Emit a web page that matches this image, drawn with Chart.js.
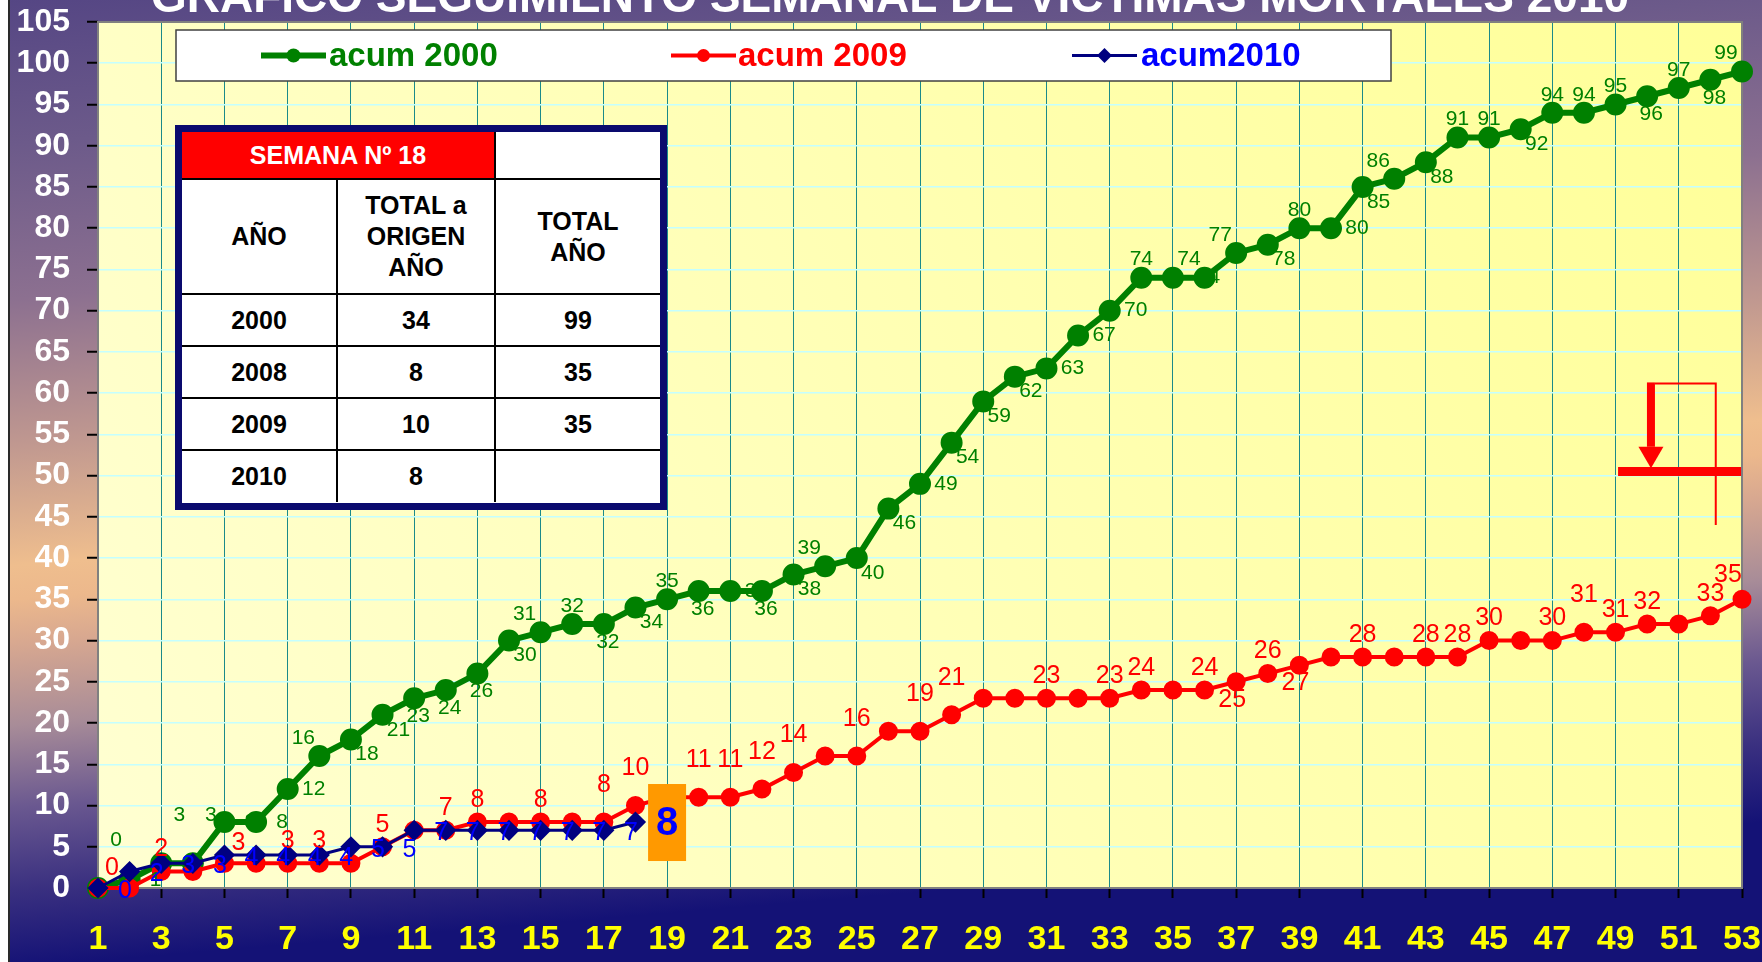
<!DOCTYPE html>
<html lang="es">
<head>
<meta charset="utf-8">
<title>Seguimiento semanal de victimas mortales 2010</title>
<script src="https://cdn.jsdelivr.net/npm/chart.js@4.4.1/dist/chart.umd.min.js"></script>
<style>
  html, body { margin: 0; padding: 0; background: #fff; }
  #marco { position: relative; width: 1762px; height: 962px; overflow: hidden; }
  #grafico { position: absolute; left: 0; top: 0; }
  #cuadro { position: absolute; left: 175px; top: 125px; width: 492px; height: 385px;
    box-sizing: border-box; border: 7px solid #0a0a6e; background: #fff; }
  #cuadro table { border-collapse: collapse; table-layout: fixed; width: 478px;
    font: bold 25px "Liberation Sans", Arial, sans-serif; color: #000; text-align: center; }
  #cuadro td { border: 2px solid #000; padding: 0; line-height: 31px; }
  #cuadro tr:first-child td { border-top: none; }
  #cuadro td:first-child { border-left: none; }
  #cuadro td:last-child { border-right: none; }
  #cuadro tr:last-child td { border-bottom: none; }
  #cuadro td.rojo { background: #ff0000; color: #fff; }
</style>
</head>
<body>
<div id="marco">
  <canvas id="grafico" width="1762" height="962"></canvas>
  <div id="cuadro"><table id="tabla"></table></div>
</div>
<script>
const titulo = "GRAFICO SEGUIMIENTO SEMANAL DE VICTIMAS MORTALES 2010";

const semanas = [1, 2, 3, 4, 5, 6, 7, 8, 9, 10, 11, 12, 13, 14, 15, 16, 17, 18, 19, 20,
  21, 22, 23, 24, 25, 26, 27, 28, 29, 30, 31, 32, 33, 34, 35, 36, 37, 38, 39, 40,
  41, 42, 43, 44, 45, 46, 47, 48, 49, 50, 51, 52, 53];

const acum2000 = [0, 1, 3, 3, 8, 8, 12, 16, 18, 21, 23, 24, 26, 30, 31, 32, 32, 34, 35, 36,
  36, 36, 38, 39, 40, 46, 49, 54, 59, 62, 63, 67, 70, 74, 74, 74, 77, 78, 80, 80,
  85, 86, 88, 91, 91, 92, 94, 94, 95, 96, 97, 98, 99];

const acum2009 = [0, 0, 2, 2, 3, 3, 3, 3, 3, 5, 7, 7, 8, 8, 8, 8, 8, 10, 11, 11,
  11, 12, 14, 16, 16, 19, 19, 21, 23, 23, 23, 23, 23, 24, 24, 24, 25, 26, 27, 28,
  28, 28, 28, 28, 30, 30, 30, 31, 31, 32, 32, 33, 35];

const acum2010 = [0, 2, 3, 3, 4, 4, 4, 4, 5, 5, 7, 7, 7, 7, 7, 7, 7, 8];

const semanaActual = 18;

const tablaAnios = ["2000", "2008", "2009", "2010"];
const tablaOrigen = [34, 8, 10, 8];
const tablaTotal = [99, 35, 35, null];

// donde va cada etiqueta de dato (una letra por semana, "." = sin etiqueta)
const etiq2000 = "HrHHrrrLBB" + "bbbBLabBab" + "rbBLBBrBBB" + "rrraRcLBar" + "BLBaaBaaab" + "abL";
const etiq2009 = "R.a.R.aa.a" + ".aa.a.AA.A" + "AAA.A.AA.." + "a.aa.abab." + "a.aaa.aAaa" + ".aL";
const etiq2010 = "rrrrrrrrrrrrrrrrr.";

const FUENTE = '"Liberation Sans", Arial, sans-serif';
Chart.defaults.font.family = FUENTE;

// tabla resumen
const filas = [];
filas.push(`<tr style="height:47px"><td class="rojo" colspan="2">SEMANA Nº ${semanaActual}</td><td></td></tr>`);
filas.push(`<tr style="height:115px"><td>AÑO</td><td>TOTAL a<br>ORIGEN<br>AÑO</td><td>TOTAL<br>AÑO</td></tr>`);
tablaAnios.forEach((a, i) => {
  filas.push(`<tr style="height:52px"><td>${a}</td><td>${tablaOrigen[i]}</td><td>${tablaTotal[i] ?? ""}</td></tr>`);
});
tabla.innerHTML = `<colgroup><col style="width:155px"><col style="width:158px"><col style="width:165px"></colgroup>` + filas.join("");

const puntos = serie => serie.map((v, i) => ({ x: semanas[i], y: v }));

const fondo = {
  id: "fondo",
  beforeDraw(chart) {
    const { ctx, width, height, chartArea: a } = chart;
    ctx.save();
    const g = ctx.createLinearGradient(0, 0, 80, 962);
    g.addColorStop(0, "#554684");
    g.addColorStop(0.15, "#6c5a8a");
    g.addColorStop(0.31, "#8c7090");
    g.addColorStop(0.46, "#c09890");
    g.addColorStop(0.585, "#efbe8e");
    g.addColorStop(0.62, "#ecb88c");
    g.addColorStop(0.665, "#d8a890");
    g.addColorStop(0.75, "#a88c98");
    g.addColorStop(0.835, "#6a5890");
    g.addColorStop(0.92, "#3a3080");
    g.addColorStop(1, "#141276");
    ctx.fillStyle = g;
    ctx.fillRect(0, 0, width, height);
    ctx.fillStyle = "#fff";
    ctx.fillRect(0, 0, 8, height);
    ctx.fillStyle = "#2a2a2a";
    ctx.fillRect(8, 0, 2, height);

    const p = ctx.createLinearGradient(a.left, a.bottom, a.right, a.top);
    p.addColorStop(0, "#ffffd2");
    p.addColorStop(1, "#ffff98");
    ctx.fillStyle = p;
    ctx.fillRect(a.left, a.top, a.right - a.left, a.bottom - a.top);

    ctx.font = "bold 46px " + FUENTE;
    ctx.fillStyle = "#fff";
    ctx.textAlign = "center";
    ctx.textBaseline = "alphabetic";
    ctx.fillText(titulo, 890, 12);
    ctx.restore();
  },
  beforeDatasetsDraw(chart) {
    const { ctx, chartArea: a } = chart;
    ctx.save();
    ctx.strokeStyle = "#808080";
    ctx.lineWidth = 2;
    ctx.strokeRect(a.left, a.top, a.right - a.left, a.bottom - a.top);
    ctx.restore();
  }
};

const desplaza = [
  { a: [0, -18], b: [4, 18], r: [26, 0], R: [16, -18], B: [16, 15], L: [-16, -18], H: [18, -48], c: [4, 0] },
  { a: [0, -22], A: [0, -37], b: [-4, 18], R: [14, -20], L: [-14, -24] },
  { r: [27, 3] }
];
const codigos = [etiq2000, etiq2009, etiq2010];
const fuentesEtiq = ["21px " + FUENTE, "25px " + FUENTE, "25px " + FUENTE];
const coloresEtiq = ["#008000", "#ff0000", "#0000ff"];

const etiquetas = {
  id: "etiquetas",
  afterDatasetsDraw(chart) {
    const ctx = chart.ctx;
    ctx.save();
    ctx.textAlign = "center";
    ctx.textBaseline = "middle";
    chart.data.datasets.forEach((ds, i) => {
      const meta = chart.getDatasetMeta(i);
      ctx.font = fuentesEtiq[i];
      ctx.fillStyle = coloresEtiq[i];
      meta.data.forEach((pt, j) => {
        const d = desplaza[i][codigos[i][j]];
        if (!d) return;
        ctx.fillText(String(ds.data[j].y), pt.x + d[0], pt.y + d[1]);
      });
    });

    // valor de la semana actual en recuadro naranja
    const { x, y } = chart.scales;
    const v = acum2010[semanaActual - 1];
    const cx = x.getPixelForValue(semanaActual + 1);
    const cy = y.getPixelForValue(v);
    ctx.fillStyle = "#ff9900";
    ctx.fillRect(cx - 19, cy - 38, 38, 77);
    ctx.font = "bold 40px " + FUENTE;
    ctx.fillStyle = "#0000ff";
    ctx.fillText(String(v), cx, cy + 2);
    ctx.restore();
  }
};

const flecha = {
  id: "flecha",
  afterDatasetsDraw(chart) {
    const { ctx, scales: { x, y } } = chart;
    const X = v => x.getPixelForValue(v);
    const Y = v => y.getPixelForValue(v);
    ctx.save();
    ctx.fillStyle = "#ff0000";
    ctx.strokeStyle = "#ff0000";
    ctx.fillRect(X(49.08), Y(50.5) - 4.5, X(52.97) - X(49.08), 9);
    ctx.fillRect(X(50.12) - 4, Y(61.3), 8, Y(53.5) - Y(61.3));
    ctx.beginPath();
    ctx.moveTo(X(50.12) - 12.5, Y(53.5));
    ctx.lineTo(X(50.12) + 12.5, Y(53.5));
    ctx.lineTo(X(50.12), Y(50.9));
    ctx.closePath();
    ctx.fill();
    ctx.lineWidth = 2;
    ctx.beginPath();
    ctx.moveTo(X(50.12) + 4, Y(61.3) + 1);
    ctx.lineTo(X(52.17), Y(61.3) + 1);
    ctx.lineTo(X(52.17), Y(44));
    ctx.stroke();
    ctx.restore();
  }
};

const leyenda = {
  id: "leyenda",
  afterDatasetsDraw(chart) {
    const ctx = chart.ctx;
    ctx.save();
    ctx.fillStyle = "#fff";
    ctx.fillRect(176, 30, 1215, 51);
    ctx.strokeStyle = "#404040";
    ctx.lineWidth = 1.5;
    ctx.strokeRect(176, 30, 1215, 51);
    const sitios = [[261, 329], [671, 738], [1072, 1141]];
    const coloresTexto = ["#008000", "#ff0000", "#0000ff"];
    const yc = 55.5;
    chart.data.datasets.forEach((ds, i) => {
      const [lx, tx] = sitios[i];
      ctx.strokeStyle = ds.borderColor;
      ctx.lineWidth = ds.borderWidth;
      ctx.beginPath();
      ctx.moveTo(lx, yc);
      ctx.lineTo(lx + 65, yc);
      ctx.stroke();
      ctx.fillStyle = ds.pointBackgroundColor;
      ctx.beginPath();
      const r = ds.pointRadius - 1;
      if (ds.pointStyle === "rectRot") {
        ctx.moveTo(lx + 32.5 - r, yc); ctx.lineTo(lx + 32.5, yc - r);
        ctx.lineTo(lx + 32.5 + r, yc); ctx.lineTo(lx + 32.5, yc + r);
      } else {
        ctx.arc(lx + 32.5, yc, r, 0, Math.PI * 2);
      }
      ctx.closePath();
      ctx.fill();
      ctx.font = "bold 33px " + FUENTE;
      ctx.fillStyle = coloresTexto[i];
      ctx.textAlign = "left";
      ctx.textBaseline = "middle";
      ctx.fillText(ds.label, tx, yc + 1);
    });
    ctx.restore();
  }
};

new Chart(document.getElementById("grafico"), {
  type: "line",
  data: {
    datasets: [
      {
        label: "acum 2000",
        data: puntos(acum2000),
        borderColor: "#008000",
        backgroundColor: "#008000",
        pointBackgroundColor: "#008000",
        pointBorderColor: "#008000",
        borderWidth: 6,
        pointRadius: 8,
        pointStyle: "circle",
        order: 3,
        clip: false
      },
      {
        label: "acum 2009",
        data: puntos(acum2009),
        borderColor: "#ff0000",
        backgroundColor: "#ff0000",
        pointBackgroundColor: "#ff0000",
        pointBorderColor: "#ff0000",
        borderWidth: 4,
        pointRadius: 7.5,
        pointStyle: "circle",
        order: 2,
        clip: false
      },
      {
        label: "acum2010",
        data: puntos(acum2010),
        borderColor: "#000080",
        backgroundColor: "#000080",
        pointBackgroundColor: "#000080",
        pointBorderColor: "#000080",
        borderWidth: 3,
        pointRadius: 8.5,
        pointStyle: "rectRot",
        order: 1,
        clip: false
      }
    ]
  },
  options: {
    responsive: false,
    animation: false,
    devicePixelRatio: 1,
    layout: { autoPadding: false, padding: { top: 22, right: 20, left: 0, bottom: 0 } },
    plugins: {
      legend: { display: false },
      title: { display: false },
      tooltip: { enabled: false }
    },
    elements: { line: { tension: 0 } },
    scales: {
      x: {
        type: "linear",
        min: 1,
        max: 53,
        afterFit(s) { s.height = 74; s.paddingLeft = 0; s.paddingRight = 0; },
        border: { display: false },
        grid: { color: "#1a8a8a", lineWidth: 1, tickColor: "#000", tickLength: 10, tickWidth: 2 },
        ticks: {
          stepSize: 2,
          maxTicksLimit: 100,
          autoSkip: false,
          maxRotation: 0,
          padding: 21,
          color: "#ffff00",
          font: { size: 34, weight: "bold" }
        }
      },
      y: {
        min: 0,
        max: 105,
        afterFit(s) { s.width = 98; s.paddingTop = 0; s.paddingBottom = 0; },
        border: { display: false },
        grid: { color: "#c4ffff", lineWidth: 1.5, tickColor: "#000", tickLength: 11, tickWidth: 2 },
        ticks: {
          stepSize: 5,
          maxTicksLimit: 100,
          autoSkip: false,
          padding: 17,
          color: "#ffffff",
          font: { size: 32, weight: "bold" }
        }
      }
    }
  },
  plugins: [fondo, etiquetas, flecha, leyenda]
});
</script>
</body>
</html>
